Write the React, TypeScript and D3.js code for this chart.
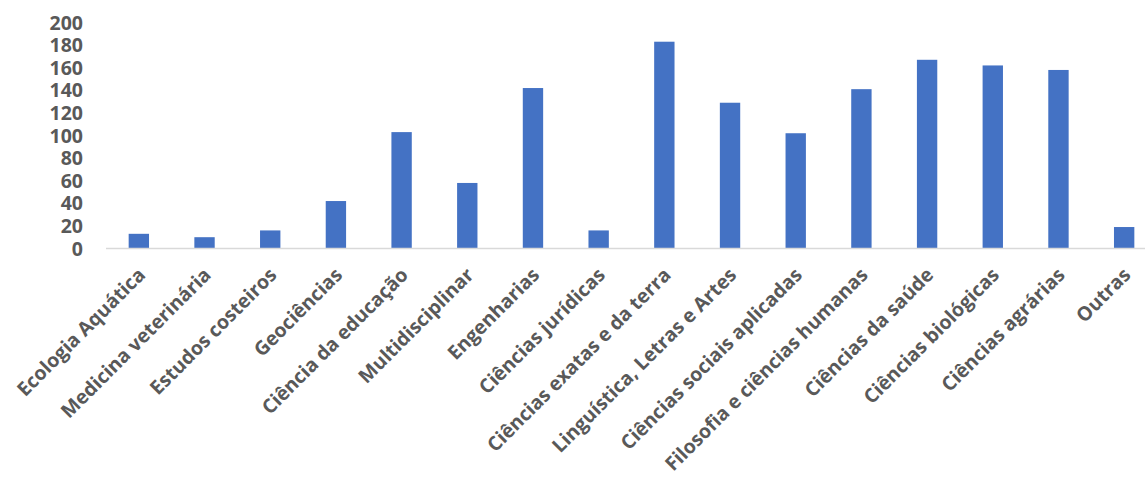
import { useEffect, useRef } from 'react'
import * as d3 from 'd3'

const categories = [
  'Ecologia Aquática',
  'Medicina veterinária',
  'Estudos costeiros',
  'Geociências',
  'Ciência da educação',
  'Multidisciplinar',
  'Engenharias',
  'Ciências jurídicas',
  'Ciências exatas e da terra',
  'Linguística, Letras e Artes',
  'Ciências sociais aplicadas',
  'Filosofia e ciências humanas',
  'Ciências da saúde',
  'Ciências biológicas',
  'Ciências agrárias',
  'Outras',
]
const values = [13, 10, 16, 42, 103, 58, 142, 16, 183, 129, 102, 141, 167, 162, 158, 19]
const yTicks = [0, 20, 40, 60, 80, 100, 120, 140, 160, 180, 200]

const W = 1145
const H = 478
const FONT = '"Open Sans", sans-serif'
const TEXT = '#595959'

export default function App() {
  const svgRef = useRef<SVGSVGElement>(null)

  useEffect(() => {
    if (!svgRef.current) return
    const svg = d3.select(svgRef.current)
    svg.selectAll('*').remove()

    const x = d3.scaleBand<string>()
      .domain(categories)
      .range([106, 1157])
      .paddingInner(0.69)
      .paddingOuter(0.345)

    const y = d3.scaleLinear()
      .domain([0, 200])
      .range([248.5, 22.5])

    // bars
    svg.append('g')
      .selectAll('rect')
      .data(values)
      .join('rect')
      .attr('x', (_, i) => x(categories[i]) || 0)
      .attr('width', x.bandwidth())
      .attr('y', d => y(d))
      .attr('height', d => y(0) - y(d))
      .attr('fill', '#4472C4')

    // x axis line
    svg.append('line')
      .attr('x1', 106)
      .attr('x2', 1157)
      .attr('y1', y(0))
      .attr('y2', y(0))
      .attr('stroke', '#D9D9D9')
      .attr('stroke-width', 1.5)

    // y tick labels
    svg.append('g')
      .selectAll('text')
      .data(yTicks)
      .join('text')
      .attr('x', 83)
      .attr('y', d => y(d))
      .attr('dy', '0.36em')
      .attr('text-anchor', 'end')
      .attr('font-family', FONT)
      .attr('font-weight', 700)
      .attr('font-size', 19.5)
      .attr('fill', TEXT)
      .text(d => d)

    // category labels
    svg.append('g')
      .selectAll('text')
      .data(categories)
      .join('text')
      .attr('transform', d => `translate(${(x(d) || 0) + x.bandwidth() / 2 - 2},${y(0) + 18}) rotate(-45)`)
      .attr('text-anchor', 'end')
      .attr('dy', '0.7em')
      .attr('font-family', FONT)
      .attr('font-weight', 700)
      .attr('font-size', 19.5)
      .attr('fill', TEXT)
      .text(d => d)
  }, [])

  return (
    <svg
      ref={svgRef}
      width={W}
      height={H}
      style={{ position: 'absolute', left: 0, top: 0, background: '#fff' }}
    />
  )
}
